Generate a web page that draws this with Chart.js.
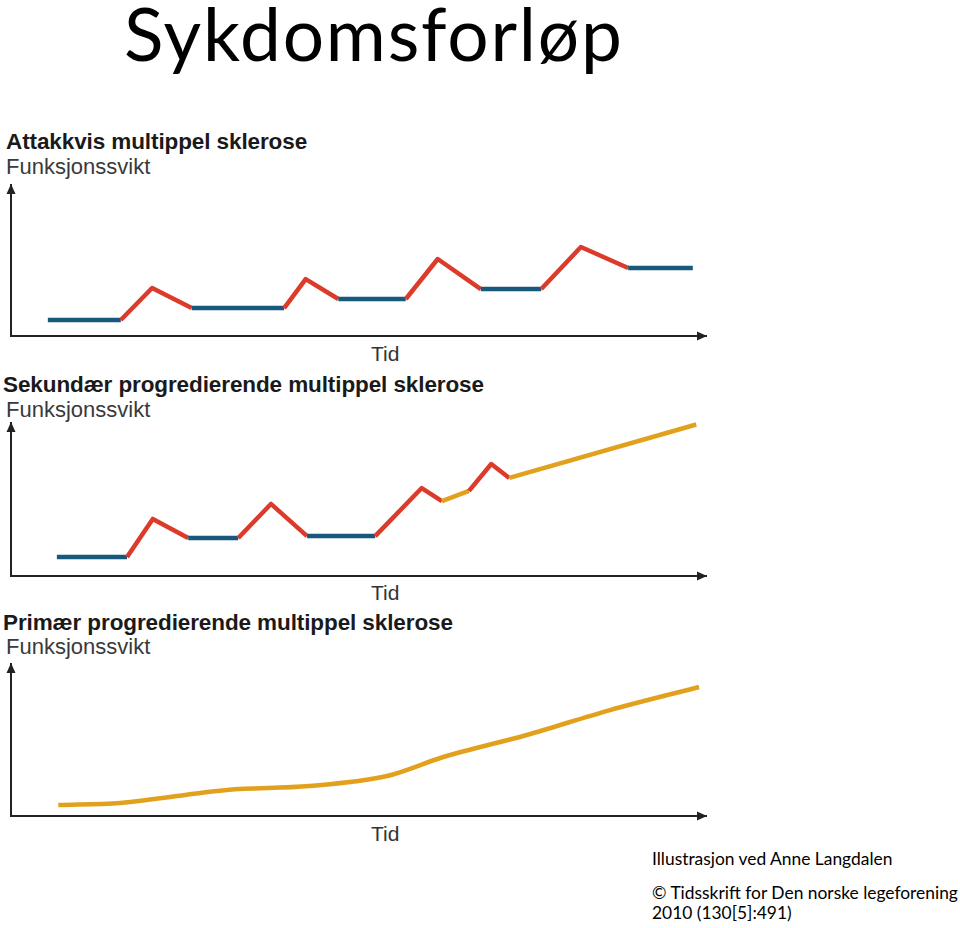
<!DOCTYPE html>
<html>
<head>
<meta charset="utf-8">
<script src="https://cdn.jsdelivr.net/npm/chart.js@4.4.1/dist/chart.umd.min.js"></script>
<style>
  html, body { margin: 0; padding: 0; background: #fff; }
  body { width: 960px; height: 928px; position: relative; overflow: hidden; }
  .t { position: absolute; white-space: nowrap; color: #000; }
  .main { font-family: Lato, "Open Sans", sans-serif; font-size: 73px; letter-spacing: 1.8px; left: 124px; top: -17px; line-height: 100px; }
  .ptitle { font-family: "Liberation Sans", Arial, sans-serif; font-weight: bold; font-size: 22.5px; letter-spacing: -0.1px; line-height: 24px; color: #1a1a1a; }
  .ylab { font-family: "Liberation Sans", sans-serif; font-size: 22px; line-height: 24px; color: #3a3a3a; }
  .xlab { font-family: "Liberation Sans Narrow", "Liberation Sans", sans-serif; font-size: 21px; line-height: 24px; color: #333; }
  .foot { font-family: Lato, "Open Sans", sans-serif; font-size: 17.4px; line-height: 20px; }
  canvas { position: absolute; left: 0; }
</style>
</head>
<body>
<div class="t main">Sykdomsforløp</div>

<div class="t ptitle" style="left:6px; top:130px;">Attakkvis multippel sklerose</div>
<div class="t ylab" style="left:6px; top:155px;">Funksjonssvikt</div>
<div class="t xlab" style="left:371px; top:342px;">Tid</div>

<div class="t ptitle" style="left:3px; top:373px;">Sekundær progredierende multippel sklerose</div>
<div class="t ylab" style="left:6px; top:398px;">Funksjonssvikt</div>
<div class="t xlab" style="left:371px; top:581px;">Tid</div>

<div class="t ptitle" style="left:3px; top:611px;">Primær progredierende multippel sklerose</div>
<div class="t ylab" style="left:6px; top:635px;">Funksjonssvikt</div>
<div class="t xlab" style="left:371px; top:822px;">Tid</div>

<div class="t foot" style="left:652px; top:849px;">Illustrasjon ved Anne Langdalen</div>
<div class="t foot" style="left:652px; top:883px;">© Tidsskrift for Den norske legeforening</div>
<div class="t foot" style="left:652px; top:903px;">2010 (130[5]:491)</div>

<canvas id="c1" style="top:175px;" width="720" height="170"></canvas>
<canvas id="c2" style="top:413px;" width="720" height="172"></canvas>
<canvas id="c3" style="top:654px;" width="720" height="171"></canvas>

<script>
// ---------- DATA (time = 0..100, functional loss = 0..100) ----------
// Panel 1: Attakkvis multippel sklerose (relapsing-remitting)
const rrTime = [5.3, 15.8, 20.3, 26.0, 39.3, 42.4, 47.1, 56.8, 61.4, 67.6, 76.3, 82.0, 88.8, 98.1];
const rrLoss = [10.6, 10.6, 31.8, 18.5, 18.5, 37.7, 24.5, 24.5, 51.0, 31.1, 31.1, 58.9, 45.0, 45.0];
const rrPhase = ['stable','attack','attack','stable','attack','attack','stable','attack','attack','stable','attack','attack','stable'];

// Panel 2: Sekundær progredierende multippel sklerose
const spTime = [6.6, 16.7, 20.4, 25.5, 32.7, 37.4, 42.6, 52.4, 59.1, 62.0, 65.9, 69.1, 71.7, 98.6];
const spLoss = [12.4, 12.4, 37.3, 24.8, 24.8, 47.1, 26.1, 26.1, 57.5, 49.0, 55.6, 73.2, 64.1, 99.0];
const spPhase = ['stable','attack','attack','stable','attack','attack','stable','attack','attack','progressive','attack','attack','progressive'];

// Panel 3: Primær progredierende multippel sklerose
const ppTime = [6.8, 15.7, 31.1, 42.9, 54.1, 62.2, 74.2, 86.2, 99.0];
const ppLoss = [7.2, 8.6, 17.1, 19.7, 26.3, 38.8, 53.3, 69.7, 84.9];
const ppPhase = ['progressive','progressive','progressive','progressive','progressive','progressive','progressive','progressive'];

// ---------- STYLE ----------
const phaseColor = { stable: '#17587c', attack: '#dc3b2b', progressive: '#e2a11d' };
const axisColor = '#222222';

const arrowPlugin = {
  id: 'axisArrows',
  afterDraw(chart) {
    const { ctx, scales: { x, y } } = chart;
    ctx.save();
    ctx.fillStyle = axisColor;
    const ax = x.right, ay = y.bottom;
    ctx.beginPath();
    ctx.moveTo(ax + 1, ay);
    ctx.lineTo(ax - 9, ay - 4.5);
    ctx.lineTo(ax - 9, ay + 4.5);
    ctx.closePath();
    ctx.fill();
    const bx = x.left, by = y.top;
    ctx.beginPath();
    ctx.moveTo(bx, by - 1);
    ctx.lineTo(bx - 4.5, by + 9);
    ctx.lineTo(bx + 4.5, by + 9);
    ctx.closePath();
    ctx.fill();
    ctx.restore();
  }
};

function makeChart(id, times, loss, phases, tension, pad) {
  const pts = times.map((t, i) => ({ x: t, y: loss[i] }));
  return new Chart(document.getElementById(id), {
    type: 'line',
    data: {
      datasets: [{
        data: pts,
        borderWidth: 4.5,
        pointRadius: 0,
        tension: tension,
        cubicInterpolationMode: tension > 0 ? 'monotone' : 'default',
        borderJoinStyle: 'round',
        borderCapStyle: 'butt',
        clip: false,
        borderColor: phaseColor[phases[0]],
        segment: {
          borderColor: ctx => phaseColor[phases[ctx.p0DataIndex]]
        }
      }]
    },
    options: {
      responsive: false,
      animation: false,
      events: [],
      layout: { padding: pad },
      plugins: { legend: { display: false }, tooltip: { enabled: false }, title: { display: false } },
      scales: {
        x: {
          type: 'linear', min: 0, max: 100,
          ticks: { display: false },
          grid: { display: false, drawTicks: false },
          border: { display: true, color: axisColor, width: 2 }
        },
        y: {
          type: 'linear', min: 0, max: 100,
          ticks: { display: false },
          grid: { display: false, drawTicks: false },
          border: { display: true, color: axisColor, width: 2 }
        }
      }
    },
    plugins: [arrowPlugin]
  });
}

makeChart('c1', rrTime, rrLoss, rrPhase, 0, { left: 11, right: 14, top: 10, bottom: 9 });
makeChart('c2', spTime, spLoss, spPhase, 0, { left: 11, right: 14, top: 10, bottom: 9 });
makeChart('c3', ppTime, ppLoss, ppPhase, 0.3, { left: 11, right: 14, top: 10, bottom: 9 });
</script>
</body>
</html>
